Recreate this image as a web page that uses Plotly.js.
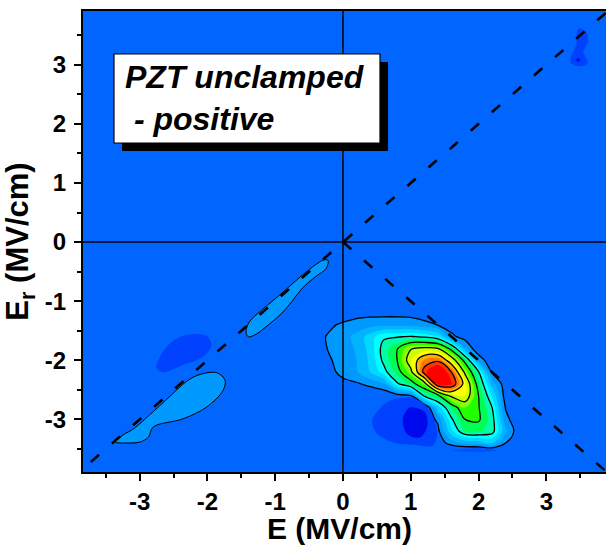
<!DOCTYPE html>
<html>
<head>
<meta charset="utf-8">
<script src="https://cdn.plot.ly/plotly-3.0.1.min.js"></script>
<style>html,body{margin:0;padding:0;background:#fff;}#chart{width:606px;height:545px;}</style>
</head>
<body>
<div id="chart"></div>
<script>
// ---------- DATA ----------
// Main FORC density peak: grid of E (x) and Er (y) values with density z
const blobE  = [-0.6,-0.4,-0.2,0,0.2,0.4,0.6,0.8,1.0,1.2,1.4,1.6,1.8,2.0,2.2,2.4,2.6,2.8];
const blobEr = [-3.8,-3.6,-3.4,-3.2,-3.0,-2.8,-2.6,-2.4,-2.2,-2.0,-1.8,-1.6,-1.4,-1.2,-1.0];
const blobZ = [
 [0,0,0,0,0,0,0,0,0,0,0,0,0,0,0,0,0,0],
 [0,0,0,0,0,0,0,0,0,0,-0.5,-1.5,-2,-2,-2,-1,0,0],
 [0,0,0,0,0,0,0,0,0,0,0.3,1.5,2.3,2.4,3.0,1.0,0,0],
 [0,0,0,0,0,0,0,0,0,0,0.7,3.7,6.0,6.2,5.5,2.2,0.2,0],
 [0,0,0,0,0,0,0,0,0,0.3,1.2,4.8,7.0,7.2,5.5,1.4,0,0],
 [0,0,0,0,0,0,0,0,0.1,-0.5,3.5,6.2,8.0,7.1,5.0,0.9,0,0],
 [0,0,0,0,0,0,0.2,0.5,0.9,5.2,6.6,9.3,10.0,7.0,3.9,0.4,0,0],
 [0,0,0.2,0.7,0.85,1.3,1.8,4.8,6.3,8.2,14.3,14.2,10.4,6.3,2.5,0.3,0,0],
 [0,0.2,0.7,1.3,1.9,3.0,4.5,6.4,8.5,13.6,16.0,13.0,8.7,5.1,0.8,0,0,0],
 [0,0.4,0.9,1.4,2.0,3.2,5.3,7.0,9.9,12.2,12.7,10.0,6.5,1.8,0,0,0,0],
 [0,0.5,1.1,1.55,2.1,3.4,5.5,6.9,8.9,9.3,9.0,6.5,2.2,0,0,0,0,0],
 [0,0.6,1.15,1.6,2.3,3.5,4.8,4.9,5.1,4.8,4.1,1.3,0.5,0,0,0,0,0],
 [0,0.1,0.8,1.2,1.45,1.65,1.75,1.75,1.7,1.35,0.95,0.4,0.1,0,0,0,0,0],
 [0,0,0,0.3,0.6,0.65,0.65,0.65,0.6,0.35,0.1,0,0,0,0,0,0,0],
 [0,0,0,0,0,0,0,0,0,0,0,0,0,0,0,0,0,0]
];
// band colours from the lowest (transparent, below first level) to the highest
const bandColors = ['rgba(0,0,0,0)','#0099FF','#00B4FF','#00D8FF','#00FFFF','#00FFAA','#00FF55',
                    '#22FF00','#88FF00','#CCFF00','#FFFF00','#FFB000','#FF7700','#FF3300','#FF0000','#FF0000'];

// Low-level ridges along the E = Er diagonal (outline of the first contour level)
const ridgeUpE  = [-0.22,-0.25,-0.4,-0.6,-0.75,-0.9,-1.1,-1.3,-1.4,-1.43,-1.38,-1.22,-1.0,-0.8,-0.6,-0.4,-0.28,-0.22];
const ridgeUpEr = [-0.31,-0.45,-0.58,-0.78,-1.0,-1.2,-1.4,-1.57,-1.6,-1.5,-1.35,-1.17,-0.96,-0.76,-0.56,-0.38,-0.3,-0.31];
const ridgeLoE  = [-3.36,-3.24,-3.09,-2.85,-2.6,-2.3,-2.11,-1.86,-1.74,-1.77,-2.01,-2.36,-2.8,-2.87,-2.99,-3.2,-3.36];
const ridgeLoEr = [-3.38,-3.26,-3.16,-2.92,-2.66,-2.35,-2.24,-2.21,-2.34,-2.51,-2.79,-2.99,-3.13,-3.3,-3.38,-3.4,-3.38];

// Negative regions
const negMainE  = [0.43,0.52,0.66,0.85,0.99,1.15,1.28,1.36,1.39,1.33,1.05,0.74,0.5,0.43];
const negMainEr = [-3.02,-2.85,-2.7,-2.64,-2.63,-2.7,-2.85,-3.05,-3.24,-3.44,-3.43,-3.39,-3.24,-3.02];
const negCoreE  = [0.88,0.92,0.99,1.12,1.21,1.25,1.22,1.14,1.03,0.94,0.88];
const negCoreEr = [-3.02,-2.88,-2.8,-2.82,-2.88,-3.05,-3.19,-3.3,-3.3,-3.24,-3.02];
const negLeftE  = [-2.75,-2.7,-2.6,-2.45,-2.26,-2.01,-1.94,-2.06,-2.36,-2.65,-2.75];
const negLeftEr = [-2.14,-1.95,-1.77,-1.63,-1.56,-1.59,-1.75,-1.94,-2.08,-2.2,-2.14];
const stripE    = [1.62,1.8,2.0,2.27,2.0,1.8,1.62];
const stripEr   = [-3.52,-3.5,-3.49,-3.52,-3.55,-3.55,-3.52];
const spotE     = [3.47,3.53,3.59,3.62,3.6,3.54,3.57,3.62,3.58,3.5,3.41,3.35,3.36,3.4,3.45,3.44,3.45,3.47];
const spotEr    = [3.62,3.61,3.56,3.45,3.35,3.23,3.15,3.04,2.99,2.97,2.99,3.04,3.13,3.22,3.35,3.45,3.55,3.62];
const spotCoreE = [3.47];
const spotCoreEr= [3.08];

// Reference diagonals
const diagE  = [-3.72, 3.95];
const diagEr = [-3.72, 3.95];
const antiE  = [0, 3.95];
const antiEr = [0, -3.95];

// Ticks and titles
const tickVals = [-3,-2,-1,0,1,2,3];
const tickText = ['-3','-2','-1','0','1','2','3'];
const xTitle = 'E (MV/cm)';
const yTitle = 'E<sub>r</sub> (MV/cm)';
const boxText = '<b><i>PZT unclamped</i></b><br><b><i>\u00a0- positive</i></b>';

// ---------- STYLE / LAYOUT ----------
const FONT = 'Arial, "Liberation Sans", sans-serif';
const colorscale = bandColors.map((c,i)=>[i/(bandColors.length-1), c]);
const M = {l:83, r:0, t:11, b:73};
const PW = 606 - M.l - M.r, PH = 545 - M.t - M.b;
const px2x = p => (p - M.l)/PW;
const px2y = p => (545 - M.b - p)/PH;

function poly(xs, ys, fill, lineW, shape){
  return {type:'scatter', mode:'lines', x:xs, y:ys, fill:'toself', fillcolor:fill,
    line:{color: lineW>0 ? 'black' : fill, width: lineW>0 ? lineW : 0, shape:shape||'spline', smoothing:1},
    hoverinfo:'skip', showlegend:false};
}

const traces = [
  poly(negMainE, negMainEr, '#0040FF', 0),
  poly(negCoreE, negCoreEr, '#0008EE', 0),
  poly(negLeftE, negLeftEr, '#0040FF', 0),
  poly(stripE, stripEr, '#0050FF', 0),
  poly(spotE, spotEr, '#0040FF', 0, 'linear'),
  {type:'scatter', mode:'markers', x:spotCoreE, y:spotCoreEr, marker:{color:'#0010E0', size:4}, hoverinfo:'skip', showlegend:false},
  {type:'contour', x:blobE, y:blobEr, z:blobZ, colorscale:colorscale, showscale:false,
    contours:{start:1, end:15, size:1, coloring:'fill', showlines:false},
    line:{width:0, smoothing:1}, hoverinfo:'skip'},
  {type:'contour', x:blobE, y:blobEr, z:blobZ, showscale:false,
    contours:{start:5, end:13, size:2, coloring:'none'},
    line:{color:'black', width:1.3, smoothing:1}, hoverinfo:'skip'},
  {type:'contour', x:blobE, y:blobEr, z:blobZ, showscale:false,
    contours:{start:1, end:1.5, size:5, coloring:'none'},
    line:{color:'black', width:1.3, smoothing:1}, hoverinfo:'skip'},
  poly(ridgeUpE, ridgeUpEr, '#0099FF', 1),
  poly(ridgeLoE, ridgeLoEr, '#0099FF', 1),
  {type:'scatter', mode:'lines', x:diagE, y:diagEr, line:{color:'black', width:2.6, dash:'11px,17px'}, hoverinfo:'skip', showlegend:false},
  {type:'scatter', mode:'lines', x:antiE, y:antiEr, line:{color:'black', width:2.6, dash:'11px,17px'}, hoverinfo:'skip', showlegend:false}
];

const axisCommon = {
  showgrid:false, zeroline:false, showline:true, linecolor:'black', linewidth:2,
  ticks:'outside', ticklen:7, tickwidth:2, tickcolor:'black',
  tickvals:tickVals, ticktext:tickText,
  tickfont:{family:FONT, size:24, color:'black', weight:'bold'},
  minor:{dtick:0.5, tick0:0, ticks:'outside', ticklen:4, tickwidth:2, tickcolor:'black', showgrid:false}
};

const layout = {
  width:606, height:545, margin:M,
  paper_bgcolor:'white', plot_bgcolor:'#0066FF',
  showlegend:false, hovermode:false,
  xaxis: Object.assign({}, axisCommon, {range:[-3.835, 3.88], mirror:true, ticklabelstandoff:0}),
  yaxis: Object.assign({}, axisCommon, {range:[-3.89, 3.91], mirror:false, ticklabelstandoff:3,
    title:{text:yTitle, font:{family:FONT, size:31, color:'black', weight:'bold'}}}),
  shapes:[
    {type:'line', xref:'x', yref:'paper', x0:0, x1:0, y0:0, y1:1, line:{color:'black', width:1.5}, layer:'above'},
    {type:'line', xref:'paper', yref:'y', x0:0, x1:1, y0:0, y1:0, line:{color:'black', width:1.5}, layer:'above'},
    {type:'rect', xref:'paper', yref:'paper', x0:px2x(122), x1:px2x(388), y0:px2y(151), y1:px2y(62),
      fillcolor:'black', line:{width:0}, layer:'above'},
    {type:'rect', xref:'paper', yref:'paper', x0:px2x(114), x1:px2x(380), y0:px2y(143), y1:px2y(54),
      fillcolor:'white', line:{color:'black', width:1.2}, layer:'above'}
  ],
  annotations:[
    {xref:'paper', yref:'paper', x:px2x(123), y:px2y(57), xanchor:'left', yanchor:'top', align:'left',
     showarrow:false, text:boxText, font:{family:FONT, size:32, color:'black'}},
    {xref:'paper', yref:'paper', x:px2x(339), y:px2y(528), xanchor:'center', yanchor:'middle',
     showarrow:false, text:'<b>'+xTitle+'</b>', font:{family:FONT, size:30, color:'black'}}
  ]
};

Plotly.newPlot('chart', traces, layout, {staticPlot:true, displayModeBar:false});
</script>
</body>
</html>
